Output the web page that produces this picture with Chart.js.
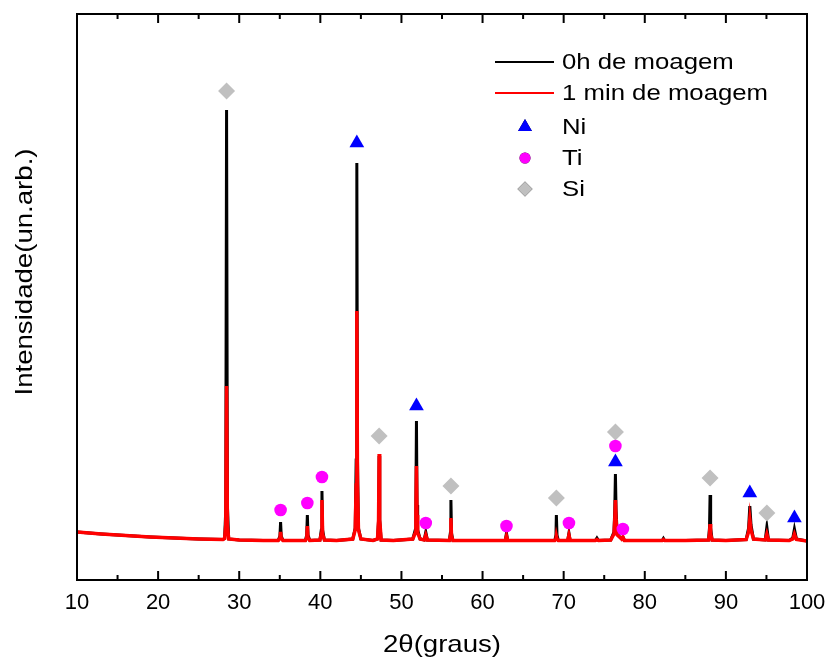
<!DOCTYPE html>
<html>
<head>
<meta charset="utf-8">
<script src="https://cdn.jsdelivr.net/npm/chart.js@4/dist/chart.umd.min.js"></script>
<style>
  html, body { margin: 0; padding: 0; background: #fff; }
  #wrap { width: 827px; height: 661px; }
</style>
</head>
<body>
<div id="wrap"><canvas id="xrd" width="827" height="661"></canvas></div>
<script>
// Diffraction angle (2θ, degrees) and intensity (arbitrary units) of both patterns
const twoTheta = [
  10, 13, 16, 19, 22, 25, 28.0,
  28.2, 28.34, 28.44, 28.54, 28.7,
  30, 33, 34.8, 35.02, 35.1, 35.18, 35.4,
  38.15, 38.32, 38.4, 38.48, 38.7,
  39.95, 40.12, 40.2, 40.28, 40.5,
  42, 44.0, 44.3, 44.42, 44.5, 44.58, 44.7, 45.0,
  46.5, 47.05, 47.18, 47.25, 47.32, 47.5,
  49, 51.4, 51.7, 51.78, 51.85, 51.92, 52.0, 52.3,
  52.8, 53.0, 53.2,
  55.9, 56.03, 56.1, 56.17, 56.35,
  60, 62.8, 62.95, 63.1,
  66, 68.9, 69.05, 69.1, 69.18, 69.35,
  70.5, 70.65, 70.8,
  73.9, 74.1, 74.3,
  75.8, 76.2, 76.3, 76.38, 76.46, 76.6,
  77.15, 77.3, 77.5,
  80, 82.15, 82.3, 82.45,
  85, 87.85, 87.98, 88.05, 88.12, 88.3,
  90, 92.5, 92.8, 92.95, 93.1, 93.4,
  94.85, 95.05, 95.25,
  97.8, 98.25, 98.45, 98.7,
  100
];
const counts0h = [
  48, 46, 44.5, 43, 42, 41, 40.5,
  41.5, 70, 470, 75, 41,
  40, 39.5, 39.5, 44, 58, 44, 39.5,
  39.5, 45, 65, 45, 39.5,
  40, 50, 89, 50, 40,
  39.5, 41, 52, 120, 417, 120, 52, 41,
  39.5, 41, 60, 124, 60, 40,
  39.5, 41, 50, 75, 159, 75, 50, 41,
  40, 48, 40,
  39.5, 47, 80, 47, 39.5,
  39.5, 39.5, 47, 39.5,
  39.5, 39.5, 45, 65, 45, 39.5,
  39.5, 47, 39.5,
  39.5, 42, 39.5,
  40, 48, 70, 106, 70, 46,
  41, 43, 39.5,
  39.5, 39.5, 41.5, 39.5,
  39.5, 40, 52, 85, 52, 40,
  39.5, 40.5, 52, 74, 55, 41,
  40, 53, 40,
  39.5, 42, 51, 41,
  39
];
const counts1min = [
  48, 46, 44.5, 43, 42, 41, 40.5,
  41.5, 55, 194, 55, 41,
  40, 39.5, 39.5, 41.5, 48, 41.5, 39.5,
  39.5, 42, 54, 42, 39.5,
  40, 46, 80, 46, 40,
  39.5, 41, 50, 95, 269, 95, 50, 41,
  39.5, 41, 60, 126, 60, 40,
  39.5, 41, 47, 65, 114, 65, 47, 41,
  40, 45, 40,
  39.5, 44, 62, 44, 39.5,
  39.5, 39.5, 44, 39.5,
  39.5, 39.5, 41, 44, 41, 39.5,
  39.5, 45, 39.5,
  39.5, 40.5, 39.5,
  40, 46, 60, 80, 60, 45,
  41, 43, 39.5,
  39.5, 39.5, 40.5, 39.5,
  39.5, 40, 46, 56, 46, 40,
  39.5, 40.5, 48, 61, 50, 41,
  40, 46, 40,
  39.5, 41, 46, 40.5,
  39
];

// Phase identification markers: peak position and marker height
const niAngles = [44.5, 51.85, 76.38, 92.95, 98.45];
const niHeights = [437, 174, 118, 87, 62];
const tiAngles = [35.1, 38.4, 40.2, 53.0, 62.95, 70.65, 76.38, 77.3];
const tiHeights = [70, 77, 103, 57, 54, 57, 134, 51];
const siAngles = [28.44, 47.25, 56.1, 69.1, 76.38, 88.05, 95.05];
const siHeights = [489, 144, 94, 82, 148, 102, 67];

// Axis ticks
const xTicks = [10, 20, 30, 40, 50, 60, 70, 80, 90, 100];

const FONT = "'Liberation Sans', Arial, sans-serif";

const toPoints = (xs, ys) => xs.map((x, i) => ({ x: x, y: ys[i] }));

// Text drawn with a slight horizontal widening
function wideText(ctx, text, x, y, sx, align) {
  ctx.save();
  ctx.translate(x, y);
  ctx.scale(sx, 1);
  ctx.textAlign = align;
  ctx.fillText(text, 0, 0);
  ctx.restore();
}

// Closed frame with inward tick marks on top and bottom
const framePlugin = {
  id: 'frame',
  afterDatasetsDraw(chart) {
    const { ctx, chartArea: a } = chart;
    const xs = chart.scales.x;
    ctx.save();
    ctx.strokeStyle = '#000';
    ctx.lineWidth = 2;
    ctx.strokeRect(a.left, a.top, a.right - a.left, a.bottom - a.top);
    ctx.beginPath();
    for (let i = 0; i < xTicks.length; i++) {
      const px = xs.getPixelForValue(xTicks[i]);
      ctx.moveTo(px, a.bottom); ctx.lineTo(px, a.bottom - 9);
      ctx.moveTo(px, a.top); ctx.lineTo(px, a.top + 9);
      if (i < xTicks.length - 1) {
        const pm = xs.getPixelForValue((xTicks[i] + xTicks[i + 1]) / 2);
        ctx.moveTo(pm, a.bottom); ctx.lineTo(pm, a.bottom - 5);
        ctx.moveTo(pm, a.top); ctx.lineTo(pm, a.top + 5);
      }
    }
    ctx.stroke();
    ctx.restore();
  }
};

// Axis titles
const titlesPlugin = {
  id: 'titles',
  afterDraw(chart) {
    const { ctx } = chart;
    ctx.save();
    ctx.fillStyle = '#000';
    ctx.font = '24px ' + FONT;
    ctx.textBaseline = 'middle';
    wideText(ctx, '2\u03b8(graus)', 442, 645, 1.15, 'center');
    ctx.translate(25, 272);
    ctx.rotate(-Math.PI / 2);
    wideText(ctx, 'Intensidade(un.arb.)', 0, 0, 1.15, 'center');
    ctx.restore();
  }
};

// Legend in the upper right of the plot
const legendPlugin = {
  id: 'xrdLegend',
  afterDraw(chart) {
    const { ctx } = chart;
    const rows = [62, 93, 127, 158, 189];
    ctx.save();
    ctx.font = '22px ' + FONT;
    ctx.textBaseline = 'middle';
    chart.data.datasets.forEach((ds, i) => {
      const y = rows[i];
      if (ds.showLine) {
        ctx.strokeStyle = ds.borderColor;
        ctx.lineWidth = 2;
        ctx.beginPath();
        ctx.moveTo(495, y); ctx.lineTo(554, y);
        ctx.stroke();
      } else {
        Chart.helpers.drawPoint(ctx, {
          pointStyle: ds.pointStyle,
          radius: ds.legendRadius,
          borderWidth: 0,
          rotation: 0
        }, 525, y);
        ctx.fillStyle = ds.backgroundColor;
        ctx.fill();
      }
      ctx.fillStyle = '#000';
      wideText(ctx, ds.label, 562, y + 1, 1.17, 'left');
    });
    ctx.restore();
  }
};

new Chart(document.getElementById('xrd'), {
  type: 'scatter',
  data: {
    datasets: [
      {
        label: '0h de moagem',
        data: toPoints(twoTheta, counts0h),
        showLine: true,
        borderColor: '#000000',
        borderWidth: 3,
        pointRadius: 0,
        tension: 0,
        order: 3
      },
      {
        label: '1 min de moagem',
        data: toPoints(twoTheta, counts1min),
        showLine: true,
        borderColor: '#ff0000',
        borderWidth: 3.5,
        pointRadius: 0,
        tension: 0,
        order: 2
      },
      {
        label: 'Ni',
        data: toPoints(niAngles, niHeights),
        showLine: false,
        pointStyle: 'triangle',
        pointRadius: 8.5,
        pointBorderWidth: 0,
        backgroundColor: '#0000ff',
        borderColor: '#0000ff',
        legendRadius: 8,
        order: 1
      },
      {
        label: 'Ti',
        data: toPoints(tiAngles, tiHeights),
        showLine: false,
        pointStyle: 'circle',
        pointRadius: 6.3,
        pointBorderWidth: 0,
        backgroundColor: '#ff00ff',
        borderColor: '#ff00ff',
        legendRadius: 5.5,
        order: 1
      },
      {
        label: 'Si',
        data: toPoints(siAngles, siHeights),
        showLine: false,
        pointStyle: 'rectRot',
        pointRadius: 8.5,
        pointBorderWidth: 0,
        backgroundColor: '#c0c0c0',
        borderColor: '#c0c0c0',
        legendRadius: 7.5,
        order: 1
      }
    ]
  },
  options: {
    responsive: false,
    devicePixelRatio: 1,
    animation: false,
    layout: { padding: { left: 77, right: 20, top: 14, bottom: 0 } },
    plugins: { legend: { display: false }, tooltip: { enabled: false } },
    scales: {
      x: {
        type: 'linear',
        min: 10,
        max: 100,
        afterBuildTicks: (scale) => { scale.ticks = xTicks.map(v => ({ value: v })); },
        afterFit: (scale) => {
          scale.height = 81;
          scale.paddingLeft = 0;
          scale.paddingRight = 0;
        },
        ticks: { font: { family: FONT, size: 22 }, color: '#000', padding: 2 },
        grid: { display: false },
        border: { display: false }
      },
      y: {
        display: false,
        min: 0,
        max: 566
      }
    }
  },
  plugins: [framePlugin, titlesPlugin, legendPlugin]
});
</script>
</body>
</html>
